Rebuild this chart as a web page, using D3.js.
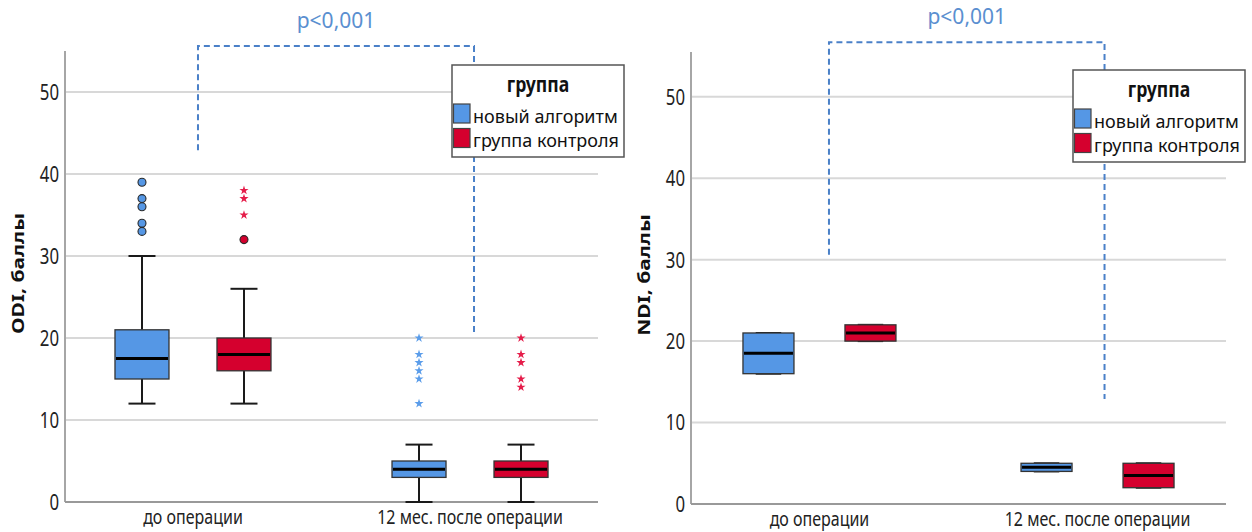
<!DOCTYPE html>
<html>
<head>
<meta charset="utf-8">
<script src="https://cdn.jsdelivr.net/npm/d3@7/dist/d3.min.js"></script>
<style>
  html, body { margin: 0; padding: 0; background: #fff; }
  svg { display: block; font-family: "Noto Sans", "Open Sans", sans-serif; }
</style>
</head>
<body>
<svg id="chart" width="1252" height="532"></svg>
<script>
// Categories, groups and axis ticks
const categories = ["до операции", "12 мес. после операции"];
const groups = ["новый алгоритм", "группа контроля"];
const yTicks = [0, 10, 20, 30, 40, 50];
const pLabel = "p<0,001";

// Box order: [до/новый, до/контроль, 12 мес./новый, 12 мес./контроль]
const odiLow    = [12, 12, 0, 0];
const odiQ1     = [15, 16, 3, 3];
const odiMedian = [17.5, 18, 4, 4];
const odiQ3     = [21, 20, 5, 5];
const odiHigh   = [30, 26, 7, 7];
const odiOutliers = [[39, 37, 36, 34, 33], [32], [], []];
const odiExtremes = [[], [38, 37, 35], [20, 18, 17, 16, 15, 12], [20, 18, 17, 15, 14]];
const odiBracket = [42.9, 55.6, 20.6];   // left end, top, right end

const ndiLow    = [16, 20, 4, 2];
const ndiQ1     = [16, 20, 4, 2];
const ndiMedian = [18.5, 21, 4.5, 3.5];
const ndiQ3     = [21, 22, 5, 5];
const ndiHigh   = [21, 22, 5, 5];
const ndiOutliers = [[], [], [], []];
const ndiExtremes = [[], [], [], []];
const ndiBracket = [30.6, 56.7, 12.9];

const colors = ["#5597e5", "#d5002e"];
const starColors = ["#5b9dea", "#e51d4a"];
const SQ = 0.8; // horizontal text compression

const svg = d3.select("#chart");

function drawPanel(p) {
  const g = svg.append("g");
  const y = d3.scaleLinear().domain([0, p.yMax]).range([p.bottom, p.top]);
  const xCat = d3.scalePoint().domain(categories).range([p.left, p.right]).padding(0.462);
  const xGrp = d3.scalePoint().domain(groups).range([-51, 51]);

  // grid lines
  g.selectAll("line.grid").data(yTicks.filter(d => d > 0)).join("line")
    .attr("x1", p.left).attr("x2", p.right)
    .attr("y1", d => y(d)).attr("y2", d => y(d))
    .attr("stroke", "#d8d8d8").attr("stroke-width", 2);

  // y axis
  const ax = g.append("g").attr("transform", `translate(${p.left},0)`)
    .call(d3.axisLeft(y).tickValues(yTicks).tickSize(0).tickFormat(d3.format("d")));
  ax.select(".domain").remove();
  ax.selectAll("text")
    .attr("x", null).attr("dy", "0.35em")
    .attr("transform", `translate(-6,0) scale(${SQ},1)`)
    .attr("fill", "#222").style("font-size", "21px").style("font-family", "Noto Sans");

  g.append("line").attr("x1", p.left).attr("x2", p.left)
    .attr("y1", y(0)).attr("y2", y(p.yMax))
    .attr("stroke", "#a6a6a6").attr("stroke-width", 2);
  g.append("line").attr("x1", p.left).attr("x2", p.right)
    .attr("y1", y(0)).attr("y2", y(0))
    .attr("stroke", "#999").attr("stroke-width", 2);

  // y label
  g.append("text")
    .attr("transform", `translate(${p.left - 47},${(p.top + p.bottom) / 2 - 3}) scale(${SQ},1) rotate(-90)`)
    .attr("text-anchor", "middle").attr("dy", "0.35em")
    .style("font-size", "21px").style("font-weight", "bold").attr("fill", "#111")
    .text(p.yLabel);

  // category labels
  g.selectAll("text.cat").data(categories).join("text")
    .attr("transform", d => `translate(${xCat(d)},${y(0) + 22}) scale(${SQ},1)`)
    .attr("text-anchor", "middle").style("font-size", "20px").attr("fill", "#222")
    .text(d => d);

  // boxes
  const items = d3.range(4).map(i => ({
    i, gi: i % 2,
    cx: xCat(categories[i >> 1]) + xGrp(groups[i % 2]),
    lo: p.low[i], q1: p.q1[i], med: p.median[i], q3: p.q3[i], hi: p.high[i],
    out: p.outliers[i], ext: p.extremes[i]
  }));
  const bw = p.boxWidth, cw = bw / 2;

  items.forEach(d => {
    const b = g.append("g");
    b.append("line").attr("x1", d.cx).attr("x2", d.cx).attr("y1", y(d.hi)).attr("y2", y(d.q3))
      .attr("stroke", "#1a1a1a").attr("stroke-width", 2);
    b.append("line").attr("x1", d.cx).attr("x2", d.cx).attr("y1", y(d.q1)).attr("y2", y(d.lo))
      .attr("stroke", "#1a1a1a").attr("stroke-width", 2);
    [d.hi, d.lo].forEach(v => b.append("line")
      .attr("x1", d.cx - cw / 2).attr("x2", d.cx + cw / 2).attr("y1", y(v)).attr("y2", y(v))
      .attr("stroke", "#1a1a1a").attr("stroke-width", 2));
    b.append("rect").attr("x", d.cx - bw / 2).attr("width", bw)
      .attr("y", y(d.q3)).attr("height", y(d.q1) - y(d.q3))
      .attr("fill", colors[d.gi]).attr("stroke", "#333").attr("stroke-width", 1.3);
    b.append("line").attr("x1", d.cx - bw / 2 + 1).attr("x2", d.cx + bw / 2 - 1)
      .attr("y1", y(d.med)).attr("y2", y(d.med))
      .attr("stroke", "#000").attr("stroke-width", 3);
    b.selectAll("circle").data(d.out).join("circle")
      .attr("cx", d.cx).attr("cy", v => y(v)).attr("r", 4)
      .attr("fill", colors[d.gi]).attr("stroke", "#2a2a2a").attr("stroke-width", 1.1);
    b.selectAll("path.star").data(d.ext).join("path")
      .attr("transform", v => `translate(${d.cx},${y(v)})`)
      .attr("d", d3.symbol(d3.symbolStar).size(26))
      .attr("fill", starColors[d.gi]);
  });

  // significance bracket
  const bx1 = xCat(categories[0]) + p.bracketDx[0];
  const bx2 = xCat(categories[1]) + p.bracketDx[1];
  const [vL, vTop, vR] = p.bracket;
  g.append("path")
    .attr("d", `M${bx1},${y(vL)}V${y(vTop)}H${bx2}V${y(vR)}`)
    .attr("fill", "none").attr("stroke", "#4a80c8").attr("stroke-width", 2)
    .attr("stroke-dasharray", "6,4");
  g.append("text").attr("x", (bx1 + bx2) / 2).attr("y", y(vTop) - 18)
    .attr("text-anchor", "middle").style("font-size", "21px").attr("fill", "#5a8fd0")
    .text(pLabel);

  // legend
  const lg = g.append("g").attr("transform", `translate(${p.legend[0]},${p.legend[1]})`);
  lg.append("rect").attr("width", 172).attr("height", 92)
    .attr("fill", "#fff").attr("stroke", "#555").attr("stroke-width", 1.5);
  lg.append("text").attr("transform", `translate(86,27) scale(${SQ},1)`)
    .attr("text-anchor", "middle").style("font-size", "22px").style("font-weight", "bold")
    .attr("fill", "#111").text("группа");
  groups.forEach((name, k) => {
    lg.append("rect").attr("x", 1.5).attr("y", 39 + k * 24.5).attr("width", 16.5).attr("height", 19)
      .attr("fill", colors[k]).attr("stroke", "#444").attr("stroke-width", 1.2);
    lg.append("text").attr("x", 21).attr("y", 57.5 + k * 24.5)
      .style("font-size", "18px").attr("fill", "#111").text(name);
  });
}

drawPanel({
  left: 65, right: 598, top: 51, bottom: 502, yMax: 55, boxWidth: 54,
  yLabel: "ODI, баллы",
  low: odiLow, q1: odiQ1, median: odiMedian, q3: odiQ3, high: odiHigh,
  outliers: odiOutliers, extremes: odiExtremes,
  bracket: odiBracket, bracketDx: [5, 4], legend: [452, 65]
});

drawPanel({
  left: 691, right: 1226, top: 52, bottom: 504, yMax: 55.5, boxWidth: 51,
  yLabel: "NDI, баллы",
  low: ndiLow, q1: ndiQ1, median: ndiMedian, q3: ndiQ3, high: ndiHigh,
  outliers: ndiOutliers, extremes: ndiExtremes,
  bracket: ndiBracket, bracketDx: [9.5, 7], legend: [1073, 70]
});
</script>
</body>
</html>
